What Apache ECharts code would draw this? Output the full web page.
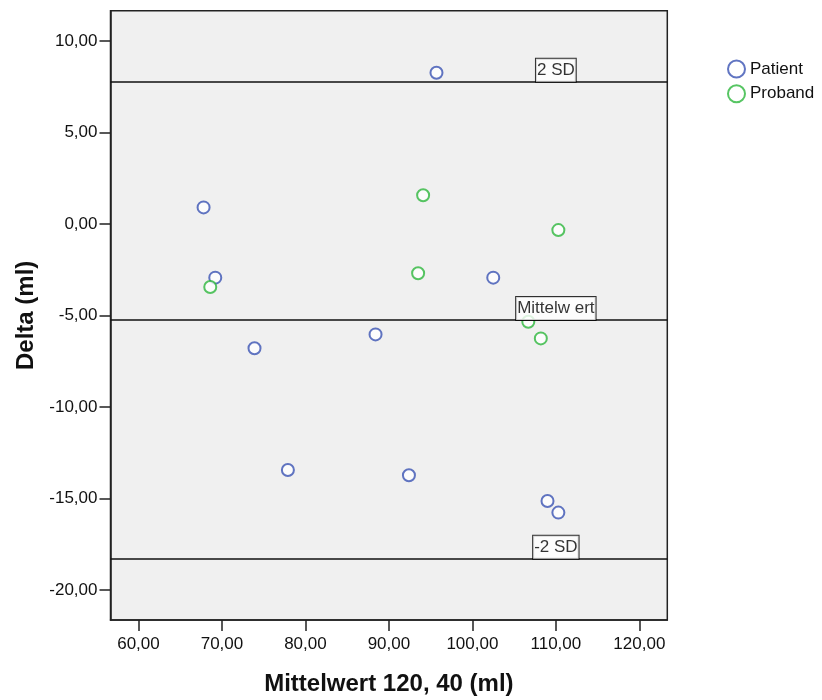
<!DOCTYPE html>
<html>
<head>
<meta charset="utf-8">
<script src="https://cdn.jsdelivr.net/npm/echarts@6/dist/echarts.min.js"></script>
<style>
  html, body { margin: 0; padding: 0; background: #fff; }
  #chart-dev { width: 822px; height: 700px; }
</style>
</head>
<body>
<div id="chart-dev"></div>
<script>
// data
var patientX = [67.8, 69.2, 73.9, 77.9, 88.4, 92.4, 95.7, 102.5, 109.0, 110.3];
var patientY = [0.91, -2.93, -6.79, -13.44, -6.03, -13.73, 8.27, -2.93, -15.14, -15.77];
var probandX = [68.6, 93.5, 94.1, 106.7, 108.2, 110.3];
var probandY = [-3.44, -2.69, 1.57, -5.34, -6.25, -0.33];
var refValues = [7.78, -5.25, -18.29];
var refLabels = ['2 SD', 'Mittelw ert', '-2 SD'];
var refLabelX = 110;
var xTicks = [60, 70, 80, 90, 100, 110, 120];
var yTicks = [-20, -15, -10, -5, 0, 5, 10];

var dom = document.getElementById('chart-dev');
var myChart = echarts.init(dom, null, { renderer: 'canvas' });

var font = 'Liberation Sans, Arial, sans-serif';
function fmt(v) { return v.toFixed(2).replace('.', ','); }
function pairs(xs, ys) { return xs.map(function (x, i) { return [x, ys[i]]; }); }

var option = {
    animation: false,
    textStyle: { fontFamily: font },
    grid: { left: 110.5, top: 10.7, right: 154.7, bottom: 80, show: true,
            outerBoundsMode: 'none', containLabel: false,
            backgroundColor: '#F0F0F0', borderColor: '#222', borderWidth: 1.5 },
    legend: {
        orient: 'vertical', left: 727, top: 59.5, padding: 0,
        itemWidth: 17, itemHeight: 17, itemGap: 5.8,
        data: ['Patient', 'Proband'],
        textStyle: { fontSize: 17, color: '#111', fontFamily: font }
    },
    xAxis: {
        type: 'value', min: 56.65, max: 123.35,
        name: 'Mittelwert 120, 40 (ml)', nameLocation: 'middle', nameGap: 52,
        nameTextStyle: { fontSize: 24, fontWeight: 'bold', color: '#111', fontFamily: font },
        axisLine: { onZero: false, lineStyle: { color: '#222', width: 1.5 } },
        axisTick: { show: true, length: 11, lineStyle: { color: '#222', width: 1.5 }, customValues: xTicks },
        axisLabel: { customValues: xTicks, formatter: fmt, fontSize: 17, color: '#111', margin: 16 },
        splitLine: { show: false }
    },
    yAxis: {
        type: 'value', min: -21.64, max: 11.66,
        name: 'Delta (ml)', nameLocation: 'middle', nameGap: 66,
        nameTextStyle: { fontSize: 24, fontWeight: 'bold', color: '#111', fontFamily: font },
        axisLine: { onZero: false, lineStyle: { color: '#222', width: 1.5 } },
        axisTick: { show: true, length: 11, lineStyle: { color: '#222', width: 1.5 }, customValues: yTicks },
        axisLabel: { customValues: yTicks, formatter: fmt, fontSize: 17, color: '#111', margin: 13 },
        splitLine: { show: false }
    },
    series: [
        {
            name: 'Patient', type: 'scatter', symbol: 'emptyCircle', symbolSize: 12,
            itemStyle: { color: '#3953B3', borderColor: '#3953B3', borderWidth: 1.6 },
            data: pairs(patientX, patientY), z: 3
        },
        {
            name: 'Proband', type: 'scatter', symbol: 'emptyCircle', symbolSize: 12,
            itemStyle: { color: '#2DB73C', borderColor: '#2DB73C', borderWidth: 1.6 },
            data: pairs(probandX, probandY), z: 3
        },
        {
            name: 'ref', type: 'scatter', symbolSize: 0, silent: true, z: 5,
            data: refValues.map(function (v, i) {
                return { value: [refLabelX, v], label: { formatter: refLabels[i] } };
            }),
            label: {
                show: true, position: 'top', distance: 0,
                fontSize: 17, color: '#000', fontFamily: font, lineHeight: 19,
                backgroundColor: '#fff', borderColor: '#000', borderWidth: 1,
                padding: [2, 1, 2, 1]
            },
            markLine: {
                silent: true, symbol: ['none', 'none'],
                label: { show: false },
                lineStyle: { color: '#111', width: 1.5, type: 'solid' },
                data: refValues.map(function (v) { return { yAxis: v }; })
            }
        }
    ]
};

if (option && typeof option === 'object') {
    myChart.setOption(option);
}

window.addEventListener('resize', myChart.resize);
</script>
</body>
</html>
